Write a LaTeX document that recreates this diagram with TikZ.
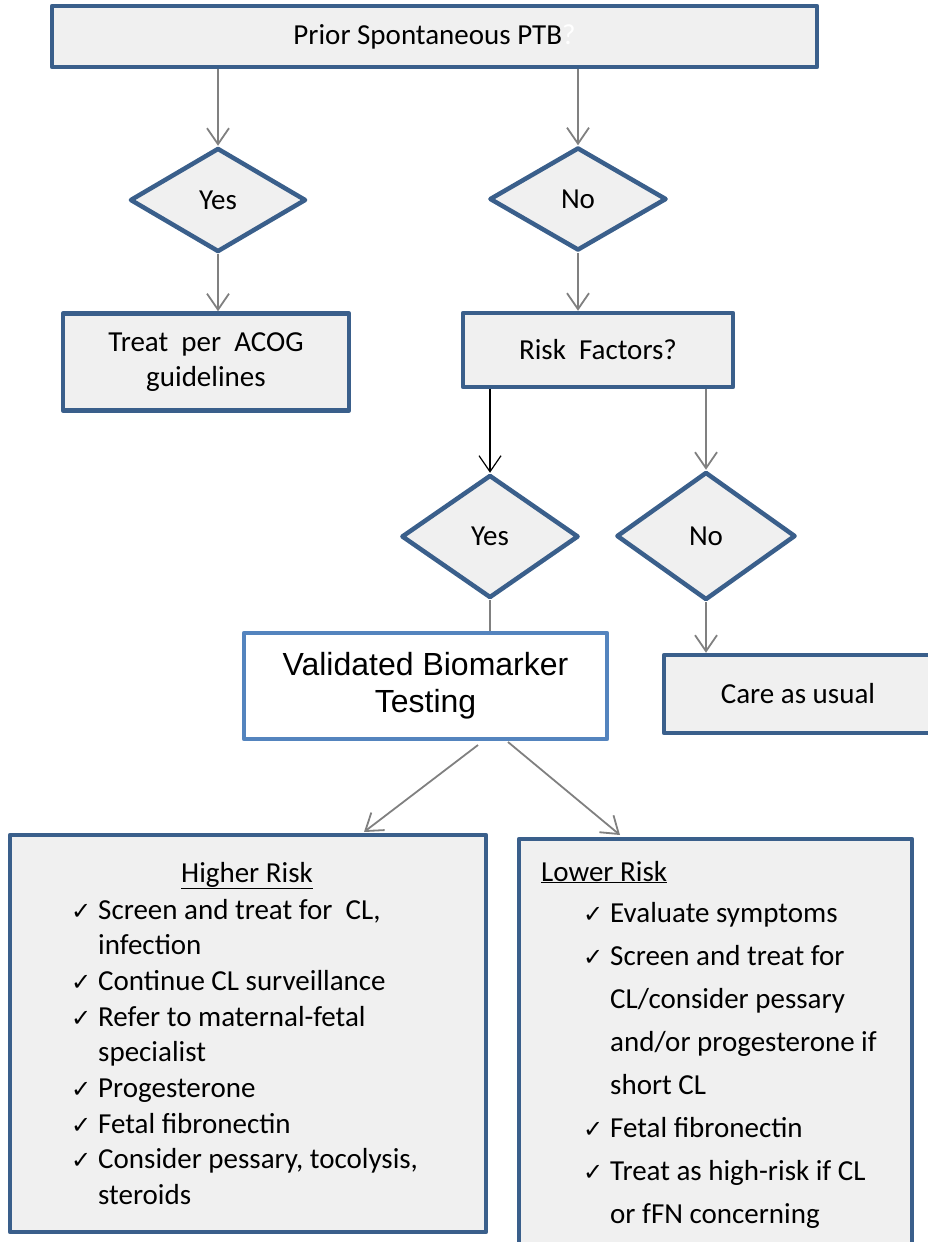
\documentclass[tikz,border=0pt]{standalone}
\usepackage{fontspec}
\setmainfont{Carlito}
\newfontfamily\arialfont{Liberation Sans}
\newfontfamily\dejavu{DejaVu Sans}
\usetikzlibrary{shapes.geometric,arrows.meta}
\definecolor{boxblue}{RGB}{58,95,139}
\definecolor{litblue}{RGB}{84,132,190}
\definecolor{boxfill}{RGB}{240,240,240}
\definecolor{arrgray}{RGB}{128,128,128}
\newcommand{\chk}{\makebox[27pt][l]{\dejavu\fontsize{24}{24}\selectfont ✓}}
\newcommand{\nochk}{\hspace*{27pt}}
\begin{document}
\begin{tikzpicture}[x=1pt, y=-1pt, font=\fontsize{29}{35}\selectfont, line join=round, >={Straight Barb[length=16pt,width=22pt]},
  box/.style={draw=boxblue, line width=4.5pt, fill=boxfill, align=center, inner sep=0pt},
  dia/.style={diamond, draw=boxblue, line width=4.5pt, fill=boxfill, inner sep=0pt},
  arr/.style={->, draw=arrgray, line width=1.8pt},
  item/.style={anchor=base west, inner sep=0pt}]
  \useasboundingbox (0,0) rectangle (927,1242);
  \node[box, minimum width=765pt, minimum height=61pt] (ptb) at (434.5,36.5) {Prior Spontaneous PTB\textcolor{white}{?}};
  \node[dia, minimum width=176pt, minimum height=104pt] (yes1) at (218,200) {Yes};
  \node[dia, minimum width=177pt, minimum height=103pt] (no1) at (578,199) {No};
  \node[box, minimum width=286pt, minimum height=97pt] (treat) at (206,362) {Treat\ \ per\ \ ACOG\\guidelines};
  \node[box, minimum width=270pt, minimum height=74pt] (risk) at (598,350) {Risk\ \ Factors?};
  \node[dia, minimum width=177pt, minimum height=123pt] (yes2) at (490,536.5) {Yes};
  \node[dia, minimum width=179pt, minimum height=128pt] (no2) at (706,536) {No};
  \node[box, draw=litblue, fill=white, minimum width=363pt, minimum height=106pt, font=\arialfont\fontsize{32}{37}\selectfont] (valid) at (425.5,686) {Validated Biomarker\\Testing};
  \node[box, minimum width=268pt, minimum height=78pt] (care) at (798,694) {Care as usual};
  \node[box, minimum width=476pt, minimum height=397pt] (higher) at (248,1033.5) {};
  \node[box, minimum width=393pt, minimum height=407pt] (lower) at (715.5,1042.5) {};
  \node[anchor=base, inner sep=0pt] (hititle) at (247,882) {\underline{Higher Risk}};
  \node[item] (lotitle) at (541,881) {\underline{Lower Risk}};
  \foreach \t [count=\i from 0] in {{\chk Screen and treat for\ \ CL,},{\nochk infection},{\chk Continue CL surveillance},{\chk Refer to maternal-fetal},{\nochk specialist},{\chk Progesterone},{\chk Fetal fibronectin},{\chk Consider pessary, tocolysis,},{\nochk steroids}}
    \node[item] (hi\i) at (71,{919+35.7*\i}) {\t};
  \foreach \t [count=\i from 0] in {{\chk Evaluate symptoms},{\chk Screen and treat for},{\nochk CL/consider pessary},{\nochk and/or progesterone if},{\nochk short CL},{\chk Fetal fibronectin},{\chk Treat as high-risk if CL},{\nochk or fFN concerning}}
    \node[item] (lo\i) at (583,{922+43*\i}) {\t};
  \draw[arr] (ptb.south -| yes1.north) -- (yes1.north);
  \draw[arr] (ptb.south -| no1.north) -- (no1.north);
  \draw[arr] (yes1.south) -- (yes1.south |- treat.north);
  \draw[arr] (no1.south) -- (no1.south |- risk.north);
  \draw[arr, draw=black, line width=1.2pt] (risk.south -| yes2.north) -- (yes2.north);
  \draw[arr] (risk.south -| no2.north) -- (no2.north);
  \draw[arrgray, line width=1.8pt] (yes2.south) -- (yes2.south |- valid.north);
  \draw[arr] (no2.south) -- (no2.south |- care.north);
  \coordinate (vl) at (478,745);
  \coordinate (vr) at (508,742);
  \coordinate (hi) at (364,832);
  \coordinate (lo) at (620,835);
  \draw[arr] (vl) -- (hi);
  \draw[arr] (vr) -- (lo);
\end{tikzpicture}
\end{document}
